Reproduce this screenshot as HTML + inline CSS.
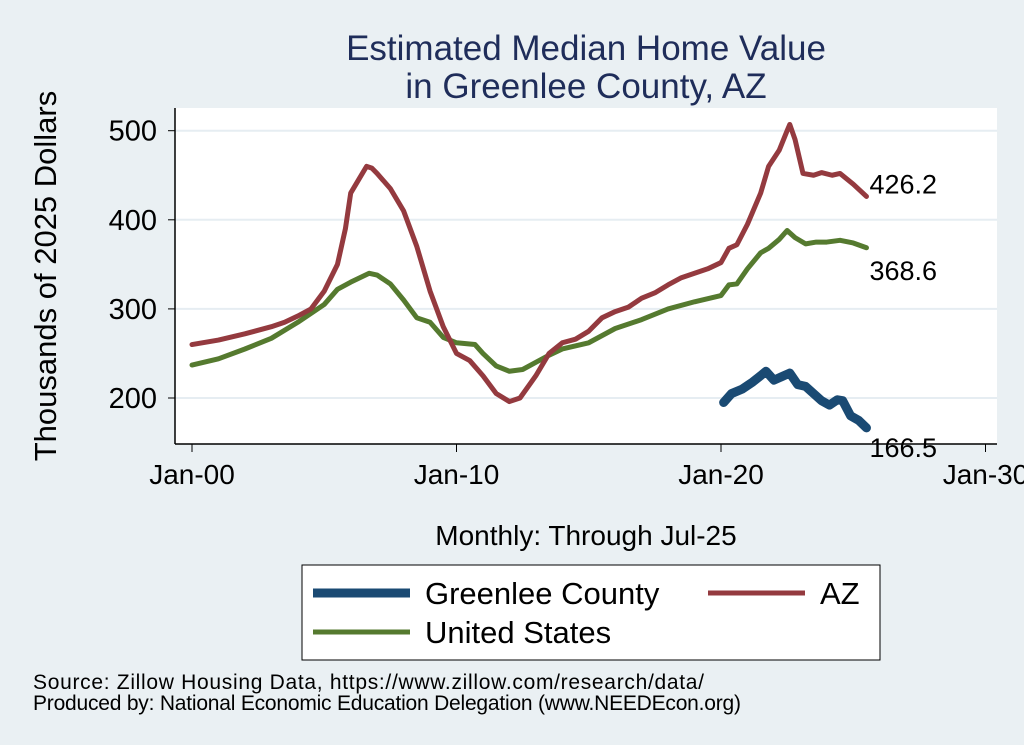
<!DOCTYPE html>
<html><head><meta charset="utf-8"><style>
body{margin:0;background:#eaf0f3;}
svg{display:block;font-family:"Liberation Sans",sans-serif;}
</style></head><body>
<svg id="c" width="1024" height="745">
<rect x="0" y="0" width="1024" height="745" fill="#eaf0f3"/>
<text x="586" y="60" text-anchor="middle" font-size="35" fill="#1f2d5a">Estimated Median Home Value</text>
<text x="586" y="98" text-anchor="middle" font-size="35" fill="#1f2d5a">in Greenlee County, AZ</text>
<rect x="175" y="108" width="822" height="336" fill="#fff"/>
<g id="grid"></g><g id="axes"></g><g id="series"></g>
<text transform="translate(56,276) rotate(-90)" text-anchor="middle" font-size="31" fill="#000">Thousands of 2025 Dollars</text>
<text x="586" y="545" text-anchor="middle" font-size="28" fill="#000">Monthly: Through Jul-25</text>
<g>
<rect x="302" y="565" width="578" height="95" fill="#fff" stroke="#000" stroke-width="1"/>
<line x1="313" y1="593" x2="410" y2="593" stroke="#1a4a73" stroke-width="9"/>
<text x="425" y="604" font-size="31">Greenlee County</text>
<line x1="708" y1="593" x2="805" y2="593" stroke="#943a3f" stroke-width="5"/>
<text x="820" y="604" font-size="31">AZ</text>
<line x1="313" y1="632" x2="410" y2="632" stroke="#557a2f" stroke-width="5"/>
<text x="425" y="643" font-size="31">United States</text>
</g>
<text x="33" y="689" font-size="21" textLength="671">Source: Zillow Housing Data, https://www.zillow.com/research/data/</text>
<text x="33" y="710" font-size="21" textLength="708">Produced by: National Economic Education Delegation (www.NEEDEcon.org)</text>
</svg>
<script>
const yTicks=[200,300,400,500];
const xTicks=[2000,2010,2020,2030];
const xTickLabels=["Jan-00","Jan-10","Jan-20","Jan-30"];
const azT=[2000,2001,2002,2003,2003.5,2004,2004.5,2005,2005.5,2005.8,2006,2006.3,2006.6,2006.8,2007,2007.5,2008,2008.5,2009,2009.5,2010,2010.5,2011,2011.5,2012,2012.4,2013,2013.5,2014,2014.5,2015,2015.5,2016,2016.5,2017,2017.5,2018,2018.5,2019,2019.5,2020,2020.3,2020.6,2021,2021.5,2021.8,2022.2,2022.5,2022.6,2022.8,2023.1,2023.5,2023.8,2024.2,2024.5,2025,2025.5];
const azV=[260,265,272,280,285,292,300,320,350,390,430,445,460,458,452,435,410,370,320,280,250,242,225,205,196,200,225,250,262,266,275,290,297,302,312,318,327,335,340,345,352,368,372,395,430,460,478,500,507,490,452,450,453,450,452,440,426.2];
const usT=[2000,2001,2002,2003,2004,2005,2005.5,2006,2006.7,2007,2007.5,2008,2008.5,2009,2009.5,2010,2010.7,2011,2011.5,2012,2012.5,2013,2013.5,2014,2015,2016,2017,2018,2019,2020,2020.3,2020.6,2021,2021.5,2021.8,2022.2,2022.5,2022.8,2023.2,2023.6,2024,2024.5,2025,2025.5];
const usV=[237,244,255,267,285,305,322,330,340,338,328,310,290,285,268,262,260,250,236,230,232,240,248,255,262,278,288,300,308,315,327,328,345,363,368,378,388,380,373,375,375,377,374,368.6];
const glT=[2020.1,2020.4,2020.8,2021.2,2021.5,2021.7,2022,2022.3,2022.6,2022.9,2023.2,2023.5,2023.8,2024.1,2024.4,2024.6,2024.9,2025.2,2025.5];
const glV=[195,205,210,218,225,230,220,224,228,215,213,205,197,192,198,197,180,175,166.5];
const NS="http://www.w3.org/2000/svg";
const X=t=>192+(t-2000)*26.45;
const Y=v=>398-(v-200)*0.891;
function mk(tag,attrs,parent){const e=document.createElementNS(NS,tag);for(const k in attrs)e.setAttribute(k,attrs[k]);document.getElementById(parent).appendChild(e);return e;}
yTicks.forEach(v=>{
 const g=mk('line',{x1:175,x2:997,y1:Y(v),y2:Y(v),stroke:'#e6edf2','stroke-width':2},'grid');
 
 
 const t=mk('line',{x1:168,x2:175,y1:Y(v),y2:Y(v),stroke:'#000'},'axes');
 
 
 const l=mk('text',{x:157,y:Y(v)+10,'text-anchor':'end','font-size':29},'axes');l.textContent=v;
 
 
});
mk('line',{x1:175,x2:175,y1:108,y2:444,stroke:'#000','stroke-width':1.5},'axes');
mk('line',{x1:175,x2:997,y1:444,y2:444,stroke:'#000','stroke-width':1.5},'axes');
xTicks.forEach((t,i)=>{
 const k=mk('line',{x1:X(t),x2:X(t),y1:444,y2:452,stroke:'#000'},'axes');
 
 
 const l=mk('text',{x:X(t),y:484,'text-anchor':'middle','font-size':28},'axes');l.textContent=xTickLabels[i];
 
 
});
function line(ts,vs,color,w,name){
 const p=mk('polyline',{points:ts.map((t,i)=>X(t)+','+Y(vs[i])).join(' '),fill:'none',stroke:color,'stroke-width':w,'stroke-linejoin':'round','stroke-linecap':'round'},'series');
 
 
 const l=mk('text',{x:X(ts[ts.length-1])+3,'font-size':27},'series');
 l.textContent=vs[vs.length-1].toFixed(1);
 
 
 return l;
}
line(usT,usV,'#557a2f',5,'series-us').setAttribute('y',Y(usV[usV.length-1])+32);
line(azT,azV,'#943a3f',5,'series-az').setAttribute('y',Y(azV[azV.length-1])-3);
line(glT,glV,'#1a4a73',9,'series-greenlee').setAttribute('y',Y(glV[glV.length-1])+29);
</script>
</body></html>
